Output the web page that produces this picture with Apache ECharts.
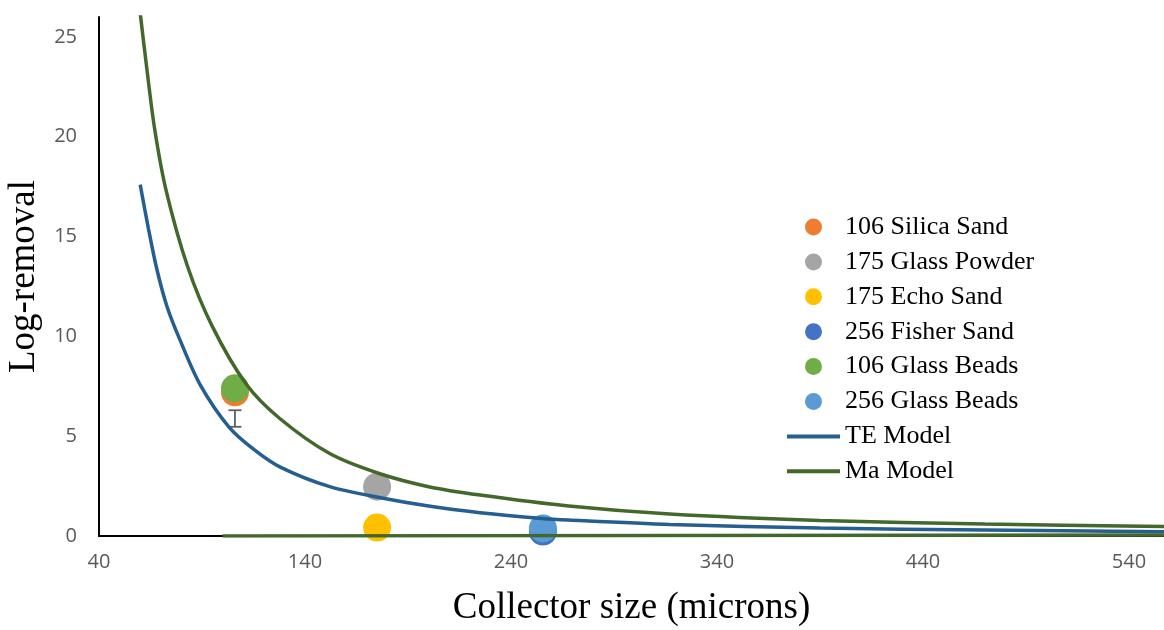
<!DOCTYPE html>
<html>
<head>
<meta charset="utf-8">
<script src="https://cdn.jsdelivr.net/npm/echarts@6/dist/echarts.min.js"></script>
<style>
  html, body { margin: 0; padding: 0; background: #fff; }
  #chart { width: 1164px; height: 630px; }
</style>
</head>
<body>
<div id="chart"></div>
<script>
// ==========================
// data
// ==========================
var pointNames = ['106 Silica Sand', '175 Glass Powder', '175 Echo Sand', '256 Fisher Sand', '106 Glass Beads', '256 Glass Beads'];
var pointColors = ['#ED7D31', '#A5A5A5', '#FFC000', '#4472C4', '#70AD47', '#5B9BD5'];
var pointX = [106, 175, 175, 255.5, 106, 255.5];
var pointY = [7.2, 2.47, 0.42, 0.22, 7.4, 0.38];

// error bar under the 106 points
var errX = [106];
var errLow = [5.47];
var errHigh = [6.3];

// TE model curve
var teX = [60, 64, 68, 73, 79, 89, 103, 115, 128, 152, 176, 200, 225, 255, 268, 317, 390, 470, 557];
var teY = [17.6, 15.4, 13.4, 11.5, 9.9, 7.6, 5.47, 4.35, 3.45, 2.47, 1.93, 1.5, 1.17, 0.88, 0.8, 0.58, 0.4, 0.3, 0.21];

// Ma model curve
var maX = [60, 63, 67, 72.6, 83, 95, 111.5, 127.6, 152, 176, 200, 225, 268, 317, 390, 470, 557];
var maY = [26.2, 23.6, 20.4, 17.3, 13.5, 10.5, 7.6, 5.9, 4.13, 3.13, 2.47, 2.05, 1.5, 1.1, 0.78, 0.6, 0.47];

// flat green line along the bottom
var flatX = [100, 557];
var flatY = [0, 0.05];

var xTicks = [40, 140, 240, 340, 440, 540];
var yTicks = [0, 5, 10, 15, 20, 25];

function pairs(xs, ys) {
    var out = [];
    for (var i = 0; i < xs.length; i++) {
        out.push([xs[i], ys[i]]);
    }
    return out;
}

var chart = echarts.init(document.getElementById('chart'));

var series = [];
for (var i = 0; i < pointNames.length; i++) {
    series.push({
        name: pointNames[i],
        type: 'scatter',
        symbol: 'circle',
        symbolSize: 28,
        z: 2,
        itemStyle: { color: pointColors[i], opacity: 1 },
        data: [[pointX[i], pointY[i]]]
    });
}

series.push({
    name: 'err',
    type: 'custom',
    z: 3,
    data: errX.map(function(x, k) { return [x, errLow[k], errHigh[k]]; }),
    renderItem: function(params, api) {
        var lo = api.coord([api.value(0), api.value(1)]);
        var hi = api.coord([api.value(0), api.value(2)]);
        var st = { stroke: '#5f5f5f', lineWidth: 1.8 };
        return {
            type: 'group',
            children: [
                { type: 'line', shape: { x1: lo[0], y1: lo[1], x2: hi[0], y2: hi[1] }, style: st },
                { type: 'line', shape: { x1: lo[0] - 6.5, y1: lo[1], x2: lo[0] + 6.5, y2: lo[1] }, style: st },
                { type: 'line', shape: { x1: hi[0] - 6.5, y1: hi[1], x2: hi[0] + 6.5, y2: hi[1] }, style: st }
            ]
        };
    }
});

// model lines
var lineBase = {
    type: 'line',
    smooth: 0.3,
    symbol: 'none',
    z: 4
};

series.push(Object.assign({}, lineBase, {
    name: 'TE Model',
    lineStyle: { color: '#255E91', width: 3.5 },
    itemStyle: { color: '#255E91' },
    data: pairs(teX, teY)
}));

series.push(Object.assign({}, lineBase, {
    name: 'Ma Model',
    lineStyle: { color: '#43682B', width: 3.5 },
    itemStyle: { color: '#43682B' },
    data: pairs(maX, maY)
}));

series.push(Object.assign({}, lineBase, {
    name: 'flat',
    smooth: false,
    lineStyle: { color: '#43682B', width: 3.5 },
    data: pairs(flatX, flatY)
}));

var lineIcon = 'path://M0,0H53V4H0Z';
var legendData = pointNames.map(function(n) { return { name: n, icon: 'circle' }; });
legendData.push({ name: 'TE Model', icon: lineIcon });
legendData.push({ name: 'Ma Model', icon: lineIcon });

var option = {
    animation: false,
    backgroundColor: '#fff',
    grid: { left: 99, right: 0, top: 17, bottom: 94, outerBoundsMode: 'none', containLabel: false },
    legend: {
        data: legendData,
        orient: 'vertical',
        left: 782,
        top: 209,
        itemWidth: 53,
        itemHeight: 17,
        itemGap: 8.9,
        textStyle: { fontFamily: 'Liberation Serif', fontSize: 26, color: '#000', lineHeight: 26 }
    },
    xAxis: {
        type: 'value',
        min: 40,
        max: 557,
        interval: 100,
        name: 'Collector size (microns)',
        nameLocation: 'middle',
        nameGap: 54,
        nameTextStyle: { fontFamily: 'Liberation Serif', fontSize: 37, color: '#000' },
        axisLine: { show: true, lineStyle: { color: '#000', width: 2 } },
        axisTick: { show: false },
        splitLine: { show: false },
        axisLabel: {
            margin: 16,
            fontFamily: 'Open Sans',
            fontSize: 20,
            color: '#595959',
            showMaxLabel: false,
            formatter: function(v) { return xTicks.indexOf(v) >= 0 ? String(v) : ''; }
        }
    },
    yAxis: {
        type: 'value',
        min: 0,
        max: 26,
        interval: 5,
        name: 'Log-removal',
        nameLocation: 'middle',
        nameGap: 56,
        nameRotate: 90,
        nameTextStyle: { fontFamily: 'Liberation Serif', fontSize: 37, color: '#000' },
        axisLine: { show: true, lineStyle: { color: '#000', width: 2 } },
        axisTick: { show: false },
        splitLine: { show: false },
        axisLabel: {
            margin: 22,
            fontFamily: 'Open Sans',
            fontSize: 20,
            color: '#595959',
            showMaxLabel: false,
            formatter: function(v) { return yTicks.indexOf(v) >= 0 ? String(v) : ''; }
        }
    },
    series: series
};

chart.setOption(option);
</script>
</body>
</html>
